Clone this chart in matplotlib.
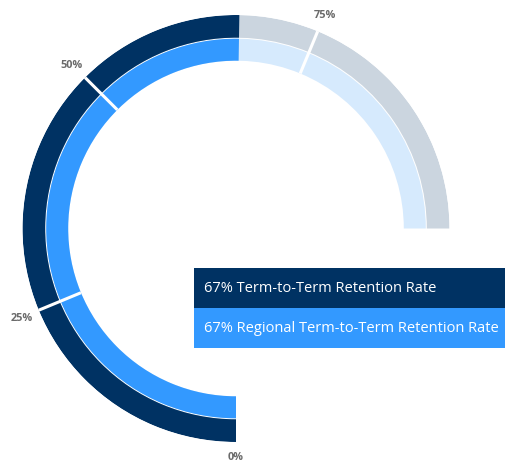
import numpy as np
import matplotlib
matplotlib.use("Agg")
import matplotlib.pyplot as plt
from matplotlib.patches import Rectangle

# ---- data ----
series_names = ["Term-to-Term Retention Rate", "Regional Term-to-Term Retention Rate"]
series_values = [67, 67]          # percent
tick_values = [0, 25, 50, 75]
tick_labels = ["0%", "25%", "50%", "75%"]
max_value = 100
arc_degrees = 270

bar_colors = ["#003263", "#3399ff"]
track_colors = ["#cbd5df", "#d6eafd"]

plt.rcParams['font.family'] = ['Open Sans', 'DejaVu Sans']

W, H = 505, 464
fig = plt.figure(figsize=(W / 100, H / 100), dpi=100)

cx, cy = 236, 229.5   # center in pixels (from top)
R = 213.5
ax = fig.add_axes([(cx - R) / W, (H - cy - R) / H, 2 * R / W, 2 * R / H], projection='polar')
ax.set_theta_zero_location('S')
ax.set_theta_direction(-1)
ax.set_ylim(0, R)
ax.set_axis_off()
ax.patch.set_alpha(0)


def to_theta(v):
    return np.deg2rad(v / max_value * arc_degrees)


ring_bottoms = [190.8, 167.8]
ring_heights = [22.7, 22.0]

for i, val in enumerate(series_values):
    # track
    ax.bar(to_theta(0), ring_heights[i], width=to_theta(max_value), bottom=ring_bottoms[i],
           align='edge', color=track_colors[i], edgecolor='none', linewidth=0)
    # value
    ax.bar(to_theta(0), ring_heights[i], width=to_theta(val), bottom=ring_bottoms[i],
           align='edge', color=bar_colors[i], edgecolor='none', linewidth=0)

# tick separators
for tv in tick_values[1:]:
    t = to_theta(tv)
    ax.plot([t, t], [ring_bottoms[1], R + 1], color='white', lw=2.2, solid_capstyle='butt')

# tick labels
label_r = [228, 232, 232, 232]
for tv, tl, lr in zip(tick_values, tick_labels, label_r):
    ax.text(to_theta(tv), lr, tl, ha='center', va='center', fontsize=7.8,
            fontweight='bold', color='#6b6b6b', clip_on=False)

# legend boxes
box_x0, box_x1 = 194, 505
box_tops = [269, 309]
box_h = 40
for i, (name, val) in enumerate(zip(series_names, series_values)):
    top = box_tops[i]
    fig.patches.append(Rectangle((box_x0 / W, (H - top - box_h) / H), (box_x1 - box_x0) / W, box_h / H,
                                 transform=fig.transFigure, facecolor=bar_colors[i], edgecolor='none'))
    fig.text(204 / W, (H - top - box_h / 2) / H, f"{val}% {name}", color='white', fontsize=10.5,
             ha='left', va='center')

fig.savefig("out.png", dpi=100)
